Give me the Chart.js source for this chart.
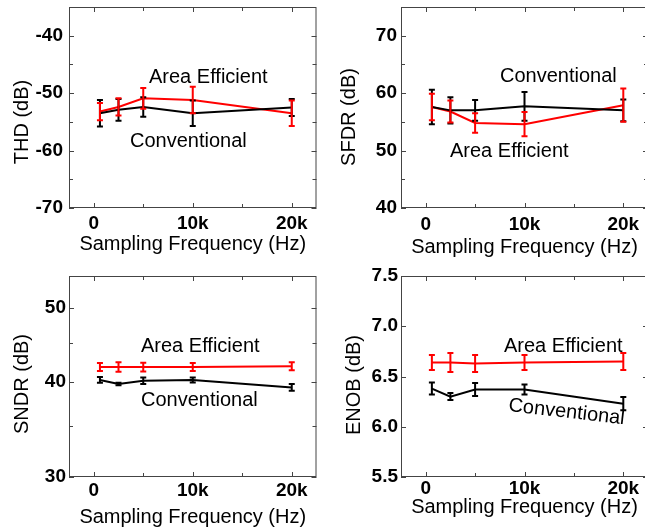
<!DOCTYPE html>
<html lang="en">

<head>
    <meta charset="UTF-8">
    <title>ADC comparison</title>
    <style>
        body {
            margin: 0;
            width: 645px;
            height: 529px;
            overflow: hidden;
            position: relative;
            background: #fff;
        }

        canvas {
            position: absolute;
        }
    </style>
    <script src="https://cdn.jsdelivr.net/npm/chart.js"></script>
</head>

<body>
    <canvas id="thd" width="330" height="262" style="left:0;top:0"></canvas>
    <canvas id="sfdr" width="330" height="262" style="left:330px;top:0"></canvas>
    <canvas id="sndr" width="330" height="267" style="left:0;top:262px"></canvas>
    <canvas id="enob" width="330" height="267" style="left:330px;top:262px"></canvas>

    <script>
        // sampling frequencies (Hz)
        const freq = [625, 2500, 5000, 10000, 20000];
        const xTicks = [0, 5000, 10000, 15000, 20000];
        const xTickLabels = ['0', '', '10k', '', '20k'];

        const thdConv = [-53.5, -52.9, -52.4, -53.5, -52.5];
        const thdConvErr = [2.3, 1.9, 1.7, 2.2, 1.5];
        const thdArea = [-53.2, -52.4, -50.9, -51.2, -53.5];
        const thdAreaErr = [1.5, 1.5, 1.8, 2.3, 2.2];
        const thdTicks = [-70, -65, -60, -55, -50, -45, -40];
        const thdTickLabels = ['-70', '', '-60', '', '-50', '', '-40'];

        const sfdrConv = [57.6, 57.0, 57.0, 57.7, 57.0];
        const sfdrConvErr = [3.0, 2.3, 1.8, 2.5, 1.9];
        const sfdrArea = [57.6, 56.8, 54.8, 54.6, 57.9];
        const sfdrAreaErr = [2.3, 1.9, 1.7, 2.1, 2.9];
        const sfdrTicks = [40, 45, 50, 55, 60, 65, 70];
        const sfdrTickLabels = ['40', '', '50', '', '60', '', '70'];

        const sndrConv = [40.2, 39.7, 40.1, 40.2, 39.3];
        const sndrConvErr = [0.35, 0.15, 0.4, 0.3, 0.4];
        const sndrArea = [41.8, 41.8, 41.8, 41.8, 41.9];
        const sndrAreaErr = [0.5, 0.6, 0.55, 0.5, 0.5];
        const sndrTicks = [30, 35, 40, 45, 50];
        const sndrTickLabels = ['30', '', '40', '', '50'];

        const enobConv = [6.38, 6.30, 6.37, 6.37, 6.23];
        const enobConvErr = [0.06, 0.035, 0.065, 0.05, 0.065];
        const enobArea = [6.64, 6.64, 6.63, 6.64, 6.65];
        const enobAreaErr = [0.075, 0.095, 0.085, 0.075, 0.085];
        const enobTicks = [5.5, 6.0, 6.5, 7.0, 7.5];
        const enobTickLabels = ['5.5', '6.0', '6.5', '7.0', '7.5'];

        const FONT = '"Liberation Sans", Arial, sans-serif';

        function findLabel(ticks, labels, v) {
            const i = ticks.findIndex(t => Math.abs(t - v) < 1e-9);
            return i < 0 ? '' : labels[i];
        }

        // frame, inward ticks, error bars, y title and text labels
        const decorPlugin = {
            id: 'decor',
            beforeDatasetsDraw(chart) {
                const { ctx, chartArea: a, scales: { x, y } } = chart;
                ctx.save();
                ctx.strokeStyle = '#444';
                ctx.lineWidth = 1;
                ctx.strokeRect(a.left + 0.5, a.top + 0.5, a.right - a.left - 1, a.bottom - a.top - 1);
                ctx.beginPath();
                x.ticks.forEach(t => {
                    const px = Math.round(x.getPixelForValue(t.value)) + 0.5;
                    const len = t.label ? 5 : 4;
                    ctx.moveTo(px, a.bottom); ctx.lineTo(px, a.bottom - len);
                    ctx.moveTo(px, a.top); ctx.lineTo(px, a.top + len);
                });
                y.ticks.forEach(t => {
                    const py = Math.round(y.getPixelForValue(t.value)) + 0.5;
                    const len = t.label ? 5 : 4;
                    ctx.moveTo(a.left, py); ctx.lineTo(a.left + len, py);
                    ctx.moveTo(a.right, py); ctx.lineTo(a.right - len, py);
                });
                ctx.stroke();
                ctx.restore();
            },
            afterDatasetsDraw(chart) {
                const { ctx, scales: { y } } = chart;
                const cfg = chart.options.plugins.decor;
                ctx.save();
                chart.data.datasets.forEach((ds, i) => {
                    const meta = chart.getDatasetMeta(i);
                    ctx.strokeStyle = ds.borderColor;
                    ctx.lineWidth = 2;
                    ctx.beginPath();
                    meta.data.forEach((pt, j) => {
                        const v = ds.data[j].y, e = ds.errors[j];
                        const top = y.getPixelForValue(v + e), bot = y.getPixelForValue(v - e);
                        ctx.moveTo(pt.x, top); ctx.lineTo(pt.x, bot);
                        ctx.moveTo(pt.x - 3, top); ctx.lineTo(pt.x + 3, top);
                        ctx.moveTo(pt.x - 3, bot); ctx.lineTo(pt.x + 3, bot);
                    });
                    ctx.stroke();
                });

                ctx.fillStyle = '#000';
                ctx.font = '20px ' + FONT;
                // y axis title
                ctx.save();
                ctx.translate(cfg.yTitle.x, cfg.yTitle.y);
                ctx.rotate(-Math.PI / 2);
                ctx.textAlign = 'center';
                ctx.textBaseline = 'middle';
                ctx.fillText(cfg.yTitle.text, 0, 0);
                ctx.restore();
                // curve labels
                ctx.textAlign = 'left';
                ctx.textBaseline = 'alphabetic';
                cfg.labels.forEach(l => {
                    ctx.save();
                    ctx.translate(l.x, l.y);
                    ctx.rotate((l.rot || 0) * Math.PI / 180);
                    ctx.fillText(l.text, 0, 0);
                    ctx.restore();
                });
                ctx.restore();
            }
        };

        function makeChart(id, p) {
            const W = document.getElementById(id).width;
            const H = document.getElementById(id).height;
            const toPts = vals => freq.map((f, i) => ({ x: f, y: vals[i] }));
            return new Chart(document.getElementById(id), {
                type: 'line',
                data: {
                    datasets: [
                        { label: 'Conventional', data: toPts(p.conv), errors: p.convErr, borderColor: '#000', borderWidth: 2 },
                        { label: 'Area Efficient', data: toPts(p.area), errors: p.areaErr, borderColor: '#ff0000', borderWidth: 2 }
                    ]
                },
                options: {
                    responsive: false,
                    animation: false,
                    devicePixelRatio: 1,
                    elements: { point: { radius: 0 }, line: { tension: 0 } },
                    layout: { padding: { left: 0, top: p.box.top, right: W - p.box.right, bottom: 0 } },
                    plugins: {
                        legend: { display: false },
                        tooltip: { enabled: false },
                        decor: { yTitle: p.yTitle, labels: p.labels }
                    },
                    scales: {
                        x: {
                            type: 'linear',
                            min: -2500,
                            max: 22500,
                            grid: { display: false, drawTicks: false },
                            border: { display: false },
                            afterBuildTicks: s => { s.ticks = xTicks.map(v => ({ value: v })); },
                            afterFit: s => {
                                s.height = H - p.box.bottom;
                                s.paddingLeft = 0; s.paddingRight = 0;
                            },
                            ticks: {
                                autoSkip: false,
                                maxRotation: 0,
                                padding: p.xPad,
                                color: '#000',
                                font: { family: FONT, size: 19, weight: 'bold' },
                                callback: v => findLabel(xTicks, xTickLabels, v)
                            },
                            title: {
                                display: true,
                                text: 'Sampling Frequency (Hz)',
                                color: '#000',
                                font: { family: FONT, size: 20 },
                                padding: { top: 0, bottom: p.titlePad }
                            }
                        },
                        y: {
                            type: p.yType,
                            min: p.yMin,
                            max: p.yMax,
                            grid: { display: false, drawTicks: false },
                            border: { display: false },
                            afterBuildTicks: s => { s.ticks = p.yTicks.map(v => ({ value: v })); },
                            afterFit: s => {
                                s.width = p.box.left;
                                s.paddingTop = 0; s.paddingBottom = 0;
                            },
                            ticks: {
                                autoSkip: false,
                                padding: p.yPad,
                                color: '#000',
                                font: { family: FONT, size: 19, weight: 'bold' },
                                callback: v => findLabel(p.yTicks, p.yTickLabels, v)
                            }
                        }
                    }
                },
                plugins: [decorPlugin]
            });
        }

        makeChart('thd', {
            conv: thdConv, convErr: thdConvErr, area: thdArea, areaErr: thdAreaErr,
            yType: 'linear', yMin: -70, yMax: -35, yTicks: thdTicks, yTickLabels: thdTickLabels,
            box: { left: 69, top: 7, right: 316.5, bottom: 208 },
            xPad: 4, yPad: 6, titlePad: 6,
            yTitle: { text: 'THD (dB)', x: 22, y: 122 },
            labels: [
                { text: 'Area Efficient', x: 149, y: 83 },
                { text: 'Conventional', x: 130, y: 147 }
            ]
        });

        makeChart('sfdr', {
            conv: sfdrConv, convErr: sfdrConvErr, area: sfdrArea, areaErr: sfdrAreaErr,
            yType: 'linear', yMin: 40, yMax: 75, yTicks: sfdrTicks, yTickLabels: sfdrTickLabels,
            box: { left: 71, top: 7, right: 318, bottom: 208 },
            xPad: 5, yPad: 4, titlePad: 3,
            yTitle: { text: 'SFDR (dB)', x: 19, y: 117 },
            labels: [
                { text: 'Conventional', x: 170, y: 82 },
                { text: 'Area Efficient', x: 120, y: 157 }
            ]
        });

        makeChart('sndr', {
            conv: sndrConv, convErr: sndrConvErr, area: sndrArea, areaErr: sndrAreaErr,
            yType: 'logarithmic', yMin: 30, yMax: 55, yTicks: sndrTicks, yTickLabels: sndrTickLabels,
            box: { left: 69, top: 14, right: 316.5, bottom: 215 },
            xPad: 2, yPad: 3, titlePad: 0,
            yTitle: { text: 'SNDR (dB)', x: 22, y: 122 },
            labels: [
                { text: 'Area Efficient', x: 141, y: 90 },
                { text: 'Conventional', x: 141, y: 144 }
            ]
        });

        makeChart('enob', {
            conv: enobConv, convErr: enobConvErr, area: enobArea, areaErr: enobAreaErr,
            yType: 'linear', yMin: 5.5, yMax: 7.5, yTicks: enobTicks, yTickLabels: enobTickLabels,
            box: { left: 71, top: 14, right: 318, bottom: 215 },
            xPad: 0, yPad: 3, titlePad: 10,
            yTitle: { text: 'ENOB (dB)', x: 24, y: 123 },
            labels: [
                { text: 'Area Efficient', x: 174, y: 90 },
                { text: 'Conventional', x: 178, y: 149, rot: 6.5 }
            ]
        });
    </script>
</body>

</html>
